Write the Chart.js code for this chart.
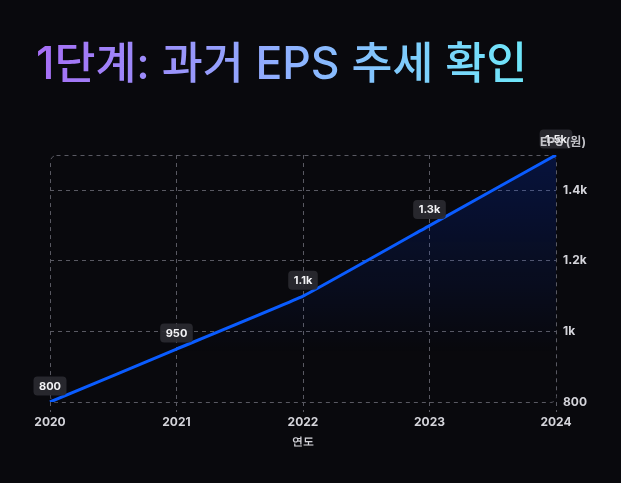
<!DOCTYPE html>
<html lang="ko">
<head>
  <meta charset="UTF-8">
  <title>1단계: 과거 EPS 추세 확인</title>
  <script src="https://cdn.jsdelivr.net/npm/chart.js"></script>
  <style>
    html, body { margin: 0; padding: 0; background: #09090d; }
    #wrap { position: relative; width: 621px; height: 483px; }
  </style>
</head>
<body>
  <div id="wrap"><canvas id="epsChart" width="621" height="483"></canvas></div>

  <script>
    // data
    const years = ['2020', '2021', '2022', '2023', '2024'];
    const epsValues = [800, 950, 1100, 1300, 1500];
    const yTicks = [800, 1000, 1200, 1400];

    const titleText = '1단계: 과거 EPS 추세 확인';
    const xTitle = '연도';
    const yTitle = 'EPS (원)';

    const gridColor = '#595962';
    const tickFont = { family: 'Inter', size: 12, weight: 'bold' };

    function shortNum(v) {
      return v >= 1000 ? (v / 1000) + 'k' : String(v);
    }

    // title, rounded plot border, value badges, y-axis caption
    const decor = {
      id: 'decor',
      beforeDatasetsDraw(chart) {
        const { ctx, chartArea: a } = chart;
        ctx.save();
        ctx.strokeStyle = gridColor;
        ctx.lineWidth = 1;
        ctx.setLineDash([4, 4]);
        ctx.beginPath();
        ctx.roundRect(a.left + 0.5, a.top + 0.5, a.right - a.left, a.bottom - a.top, 6);
        ctx.stroke();
        ctx.restore();
      },
      afterDatasetsDraw(chart) {
        const { ctx } = chart;
        const meta = chart.getDatasetMeta(0);
        ctx.save();
        ctx.font = 'bold 11px Inter';
        ctx.textAlign = 'center';
        ctx.textBaseline = 'middle';
        meta.data.forEach((pt, i) => {
          const txt = shortNum(epsValues[i]);
          const w = ctx.measureText(txt).width + 11;
          const h = 19;
          const cy = pt.y - 16;
          ctx.fillStyle = 'rgba(42,42,48,0.92)';
          ctx.beginPath();
          ctx.roundRect(pt.x - w / 2, cy - h / 2, w, h, 4);
          ctx.fill();
          ctx.fillStyle = '#f2f2f5';
          ctx.fillText(txt, pt.x, cy + 0.5);
        });
        ctx.restore();
      },
      afterDraw(chart) {
        const { ctx, chartArea: a } = chart;
        ctx.save();
        ctx.font = 'bold 12px Inter, "Noto Sans CJK KR"';
        ctx.fillStyle = 'rgba(214,214,220,0.9)';
        ctx.textAlign = 'center';
        ctx.textBaseline = 'middle';
        ctx.fillText(yTitle, a.right + 7, a.top - 13);

        ctx.font = '500 44.5px Inter, "Noto Sans CJK KR"';
        ctx.textAlign = 'left';
        ctx.textBaseline = 'alphabetic';
        const w = ctx.measureText(titleText).width;
        const g = ctx.createLinearGradient(37, 0, 37 + w, 0);
        g.addColorStop(0, '#a66ef5');
        g.addColorStop(0.5, '#8fb0ff');
        g.addColorStop(1, '#6ee7f9');
        ctx.fillStyle = g;
        ctx.fillText(titleText, 36, 79);
        ctx.restore();
      }
    };

    const ctx = document.getElementById('epsChart').getContext('2d');
    new Chart(ctx, {
      type: 'line',
      data: {
        labels: years,
        datasets: [{
          data: epsValues,
          borderColor: '#0a5cff',
          borderWidth: 3,
          pointRadius: 0,
          tension: 0.08,
          fill: 'start',
          backgroundColor(c) {
            const a = c.chart.chartArea;
            if (!a) return 'transparent';
            const g = c.chart.ctx.createLinearGradient(0, a.top, 0, a.bottom);
            g.addColorStop(0, 'rgba(0,60,255,0.20)');
            g.addColorStop(0.8, 'rgba(0,60,255,0)');
            return g;
          }
        }]
      },
      options: {
        responsive: false,
        animation: false,
        layout: { padding: { top: 155, left: 50, right: 0, bottom: 30 } },
        plugins: { legend: { display: false }, tooltip: { enabled: false } },
        scales: {
          x: {
            border: { display: false, dash: [4, 4] },
            grid: {
              color: c => (c.index === 0 || c.index === years.length - 1) ? 'transparent' : gridColor,
              tickColor: gridColor,
              tickBorderDash: [4, 4],
              tickLength: 10
            },
            ticks: { color: '#d4d4da', font: tickFont, padding: 3, maxRotation: 0 },
            title: { display: true, text: xTitle, color: '#d4d4da', font: { family: 'Inter', size: 11, weight: 'bold' }, padding: { top: 0, bottom: 5 } },
            afterFit(s) { s.height = 51; }
          },
          y: {
            position: 'right',
            min: 800,
            max: 1500,
            afterBuildTicks(s) { s.ticks = yTicks.map(v => ({ value: v })); },
            border: { display: false, dash: [4, 4] },
            grid: {
              color: c => c.index === 0 ? 'transparent' : gridColor,
              drawTicks: false
            },
            ticks: { color: '#d4d4da', font: tickFont, padding: 7, callback: v => shortNum(v) },
            afterFit(s) { s.width = 65; }
          }
        }
      },
      plugins: [decor]
    });
  </script>
</body>
</html>
